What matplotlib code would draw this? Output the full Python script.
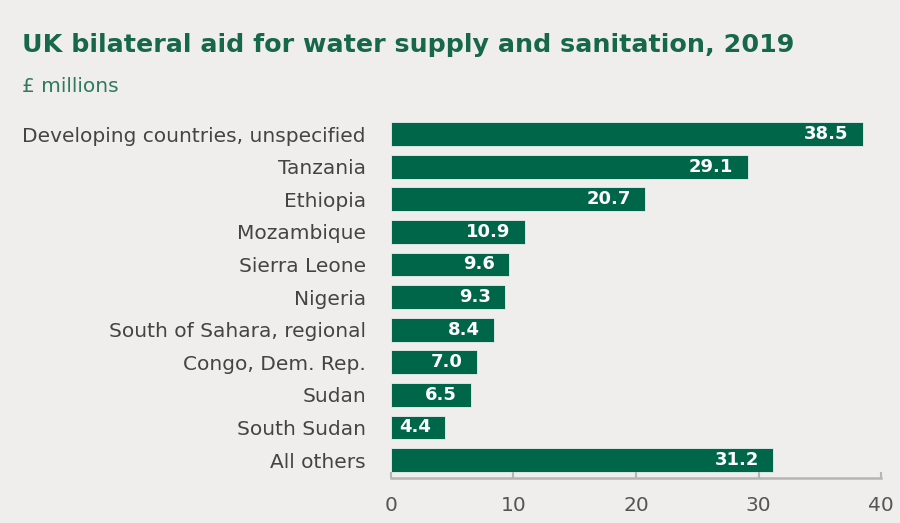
import matplotlib.pyplot as plt

# Donnees
countries = ["Developing countries, unspecified", "Tanzania", "Ethiopia", "Mozambique",
             "Sierra Leone", "Nigeria", "South of Sahara, regional", "Congo, Dem. Rep.",
             "Sudan", "South Sudan", "All others"]
values = [38.5, 29.1, 20.7, 10.9, 9.6, 9.3, 8.4, 7.0, 6.5, 4.4, 31.2]
xticks = [0, 10, 20, 30, 40]

bg = "#efeeec"
green = "#00664a"
grey = "#444444"

fig = plt.figure(figsize=(9, 5.23), dpi=100, facecolor=bg)
ax = fig.add_axes([0.4344, 0.086, 0.5446, 0.692], facecolor=bg)

ypos = list(range(len(countries)))
ax.barh(ypos, values, height=0.73, color=green, edgecolor="#e8f0ec", linewidth=0.6)

# Etiquettes de valeur dans les barres
for y, v in zip(ypos, values):
    ax.text(v - 1.15, y, f"{v:.1f}", ha="right", va="center", color="white",
            fontsize=13, fontweight="bold")

ax.set_ylim(10.55, -0.55)
ax.set_xlim(0, 40)
ax.set_yticks(ypos)
ax.set_yticklabels(countries, fontsize=14.5, color=grey)
ax.set_xticks(xticks)
ax.set_xticklabels([str(t) for t in xticks], fontsize=14.5, color="#555555")

for s in ["top", "right", "left"]:
    ax.spines[s].set_visible(False)
ax.spines["bottom"].set_color("#b5b5b5")
ax.spines["bottom"].set_linewidth(1.8)
ax.tick_params(axis="y", length=0, pad=18)
ax.tick_params(axis="x", direction="in", length=4, width=1.5, color="#b5b5b5", pad=13)

fig.text(0.024, 0.914, "UK bilateral aid for water supply and sanitation, 2019",
         fontsize=18.3, fontweight="bold", color="#17684a", va="center")
fig.text(0.024, 0.834, "£ millions", fontsize=14.5, color="#2f7a5c", va="center")

fig.savefig("out.png", dpi=100, facecolor=bg)
